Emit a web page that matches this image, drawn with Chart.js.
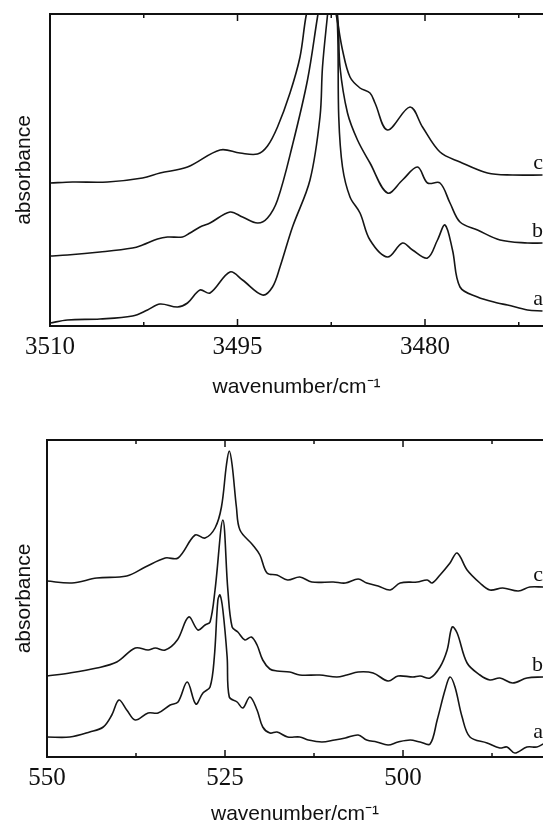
<!DOCTYPE html>
<html>
<head>
<meta charset="utf-8">
<script src="https://cdn.jsdelivr.net/npm/chart.js@4.4.1/dist/chart.umd.min.js"></script>
<style>
  html, body { margin: 0; padding: 0; background: #fff; overflow: hidden; }
  .panel { position: absolute; left: 0; width: 543px; height: 415px; }
  #panel-oh { top: 0; }
  #panel-low { top: 415px; }
</style>
</head>
<body>
<div class="panel" id="panel-oh"><canvas id="ohChart"></canvas></div>
<div class="panel" id="panel-low"><canvas id="lowChart"></canvas></div>
<script>
// --- DATA: upper panel (O-H stretch region), absorbance in arbitrary units ---
const ohWnA = [3510, 3508.6, 3506, 3503.4, 3502.2, 3501.2, 3499.8, 3499, 3498, 3497.2, 3495.6, 3494.6, 3493, 3492.2, 3491.6, 3490.6, 3489.2, 3488.4, 3488.2, 3487.8, 3487.4, 3487.0, 3486.9, 3486.6, 3486.0, 3485.2, 3484.4, 3483.0, 3481.8, 3481.0, 3479.8, 3479.0, 3478.4, 3477.8, 3477.2, 3475.8, 3474.2, 3473.4, 3471.8, 3470.6];
const ohA   = [3, 6, 7, 10, 16, 22, 19, 23, 36, 33, 54, 46, 31, 39, 59, 99, 146, 209, 259, 311, 360, 300, 209, 159, 129, 113, 86, 69, 83, 76, 68, 86, 101, 76, 39, 29, 23, 21, 16, 15];

const ohWnB = [3510, 3508.6, 3506, 3503.4, 3502.6, 3501.4, 3500.6, 3499.4, 3498.8, 3498, 3497.2, 3495.6, 3494.6, 3493.4, 3492.6, 3491.8, 3490.6, 3489.4, 3488.6, 3487.8, 3487.0, 3486.8, 3486.2, 3485.4, 3484.4, 3483.0, 3481.8, 3480.6, 3479.8, 3478.8, 3478.0, 3477.2, 3475.8, 3474.0, 3471.8, 3470.6];
const ohB   = [70, 71, 74, 78, 81, 87, 89, 89, 93, 99, 103, 114, 109, 103, 108, 126, 181, 246, 309, 370, 311, 259, 213, 186, 163, 133, 146, 159, 143, 143, 123, 104, 96, 86, 83, 83];

const ohWnC = [3510, 3508.2, 3505.4, 3502.6, 3501.2, 3499.0, 3496.4, 3494.8, 3493.4, 3492.6, 3491.8, 3490.8, 3490.0, 3489.5, 3488.3, 3487.1, 3486.6, 3486.0, 3485.2, 3484.4, 3484.0, 3483.0, 3481.2, 3480.2, 3478.8, 3477.2, 3475.0, 3473.0, 3470.6];
const ohC   = [143, 144, 144, 148, 153, 159, 176, 173, 172, 180, 199, 233, 269, 311, 380, 311, 276, 249, 238, 233, 223, 196, 219, 199, 174, 164, 153, 151, 151];

// --- DATA: lower panel (low wavenumber region) ---
const lowWnA = [550, 546.8, 544.0, 542.1, 540.9, 539.9, 538.8, 537.6, 535.8, 534.4, 532.7, 531.6, 530.3, 529.1, 528.1, 527.1, 526.5, 526.0, 525.7, 525.3, 524.7, 524.4, 523.3, 522.5, 521.5, 520.5, 519.7, 518.7, 517.7, 516.2, 514.5, 513.3, 511.4, 509.6, 508.1, 506.3, 505.1, 503.7, 502.1, 500.7, 499.0, 497.6, 496.2, 495.2, 494.1, 493.4, 492.7, 491.7, 490.6, 488.2, 486.4, 485.4, 484.3, 482.6, 481.2, 480.3];
const lowA   = [20, 20, 25, 30, 42, 57, 47, 37, 44, 44, 52, 55, 75, 53, 64, 70, 100, 157, 162, 147, 100, 60, 55, 49, 60, 47, 30, 24, 25, 20, 20, 17, 15, 17, 19, 22, 17, 15, 12, 15, 17, 15, 13, 37, 67, 80, 70, 40, 20, 14, 9, 10, 4, 10, 10, 13];

const lowWnB = [550, 546.8, 543.0, 540.2, 537.6, 535.8, 534.8, 533.4, 531.7, 530.1, 528.8, 527.8, 527.1, 526.4, 525.3, 524.6, 524.0, 523.2, 522.2, 521.3, 520.5, 519.7, 518.7, 517.7, 515.9, 514.5, 511.7, 509.3, 507.9, 506.3, 504.2, 502.1, 500.7, 498.6, 497.6, 496.2, 494.8, 493.8, 493.1, 492.4, 491.0, 489.2, 487.8, 486.4, 484.6, 482.6, 480.3];
const lowB   = [81, 84, 89, 95, 109, 107, 109, 107, 117, 140, 127, 132, 135, 167, 237, 167, 130, 125, 117, 120, 112, 97, 88, 86, 85, 82, 82, 80, 82, 85, 84, 76, 81, 80, 81, 79, 90, 107, 130, 124, 94, 82, 77, 79, 74, 79, 80];

const lowWnC = [550, 546.5, 543.0, 538.8, 536.2, 533.4, 531.6, 529.2, 527.8, 526.4, 525.5, 524.8, 524.4, 524.0, 523.4, 522.9, 521.1, 520.1, 519.1, 517.7, 516.2, 514.5, 512.8, 509.8, 508.1, 506.3, 505.1, 503.5, 501.8, 500.4, 498.0, 496.6, 495.9, 494.8, 493.4, 492.4, 491.0, 489.2, 487.8, 486.0, 483.8, 482.2, 480.3];
const lowC   = [176, 174, 179, 181, 190, 199, 199, 222, 219, 229, 250, 292, 306, 292, 250, 227, 212, 202, 184, 182, 177, 180, 175, 175, 174, 178, 174, 171, 167, 174, 175, 177, 174, 182, 194, 204, 187, 174, 167, 169, 166, 170, 170];

const curveNames = ['a', 'b', 'c'];

// --- FRAME, INWARD TICKS AND CURVE LETTERS ---
const framePlugin = {
  id: 'frame',
  afterDatasetsDraw(chart) {
    const { ctx, chartArea: area, scales: { x, y } } = chart;
    ctx.save();
    ctx.strokeStyle = '#111';
    ctx.lineWidth = 2;
    ctx.beginPath();
    ctx.moveTo(area.right + 2, area.top);
    ctx.lineTo(area.left, area.top);
    ctx.lineTo(area.left, area.bottom);
    ctx.lineTo(area.right + 2, area.bottom);
    ctx.stroke();

    ctx.lineWidth = 1.5;
    x.ticks.forEach(t => {
      const px = x.getPixelForValue(t.value);
      const len = t.label !== '' ? 7 : 4;
      ctx.beginPath();
      ctx.moveTo(px, area.bottom);
      ctx.lineTo(px, area.bottom - len);
      ctx.moveTo(px, area.top);
      ctx.lineTo(px, area.top + len);
      ctx.stroke();
    });

    ctx.fillStyle = '#111';
    ctx.font = '22px "Liberation Serif"';
    ctx.textAlign = 'right';
    ctx.textBaseline = 'alphabetic';
    chart.data.datasets.forEach(ds => {
      const last = ds.data[ds.data.length - 1];
      ctx.fillText(ds.label, area.right, y.getPixelForValue(last.y) - 6);
    });
    ctx.restore();
  }
};

function toPoints(wn, vals) {
  return wn.map((w, i) => ({ x: w, y: vals[i] }));
}

function makeSpectrum(canvasId, curves, cfg) {
  new Chart(document.getElementById(canvasId), {
    type: 'line',
    data: {
      datasets: curves.map((c, i) => ({
        label: curveNames[i],
        data: toPoints(c[0], c[1]),
        borderColor: '#151515',
        borderWidth: 1.6,
        pointRadius: 0,
        fill: false,
        tension: 0.35
      }))
    },
    options: {
      responsive: true,
      maintainAspectRatio: false,
      animation: false,
      layout: { padding: { top: cfg.padTop, right: 0, left: 0, bottom: 0 } },
      plugins: { legend: { display: false }, tooltip: { enabled: false } },
      scales: {
        x: {
          type: 'linear',
          reverse: true,
          min: cfg.xMin,
          max: cfg.xMax,
          afterFit: s => { s.height = cfg.xAxisHeight; },
          grid: { display: false, drawTicks: false },
          border: { display: false },
          ticks: {
            stepSize: cfg.step,
            includeBounds: false,
            autoSkip: false,
            maxRotation: 0,
            padding: 6,
            color: '#111',
            font: { family: 'Liberation Serif', size: 25 },
            callback: v => (v % cfg.major === 0 ? String(v) : '')
          },
          title: {
            display: true,
            text: 'wavenumber/cm⁻¹',
            color: '#111',
            font: { family: 'Liberation Sans', size: 21 },
            padding: { top: 0, bottom: cfg.titlePad }
          }
        },
        y: {
          min: 0,
          max: cfg.yMax,
          afterFit: s => { s.width = cfg.yAxisWidth; },
          grid: { display: false, drawTicks: false },
          border: { display: false },
          ticks: { display: false },
          title: {
            display: true,
            text: 'absorbance',
            color: '#111',
            font: { family: 'Liberation Sans', size: 21 },
            padding: { top: 12, bottom: 0 }
          }
        }
      }
    },
    plugins: [framePlugin]
  });
}

makeSpectrum('ohChart', [[ohWnA, ohA], [ohWnB, ohB], [ohWnC, ohC]], {
  xMin: 3470.56, xMax: 3510, step: 7.5, major: 15, yMax: 312,
  padTop: 14, xAxisHeight: 89, yAxisWidth: 50, titlePad: 15
});

makeSpectrum('lowChart', [[lowWnA, lowA], [lowWnB, lowB], [lowWnC, lowC]], {
  xMin: 480.34, xMax: 550, step: 12.5, major: 25, yMax: 317,
  padTop: 25, xAxisHeight: 73, yAxisWidth: 47, titlePad: 3
});
</script>
</body>
</html>
